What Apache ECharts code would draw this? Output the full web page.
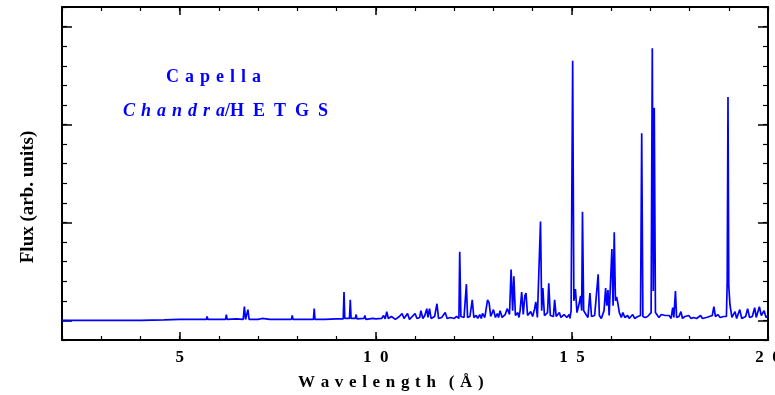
<!DOCTYPE html>
<html>
<head>
<meta charset="utf-8">
<script src="https://cdn.jsdelivr.net/npm/echarts@6/dist/echarts.min.js"></script>
<style>
  html, body { margin: 0; padding: 0; background: #fff; }
  #chart { width: 775px; height: 395px; }
</style>
</head>
<body>
<div id="chart"></div>
<script>
// spectrum: [wavelength (A), flux (arb.)]
const spec2to10 = [
  [2.0, 0], [4.0, 0], [4.6, 0.005], [5.0, 0.01], [5.3, 0.01], [5.68, 0.01], [5.70, 0.04], [5.72, 0.01],
  [6.0, 0.01], [6.17, 0.01], [6.19, 0.06], [6.21, 0.01], [6.45, 0.015], [6.62, 0.01], [6.65, 0.14],
  [6.68, 0.01], [6.71, 0.01], [6.74, 0.11], [6.77, 0.01], [7.0, 0.01], [7.1, 0.02], [7.3, 0.01],
  [7.6, 0.01], [7.85, 0.01], [7.87, 0.05], [7.89, 0.01], [8.2, 0.01], [8.41, 0.01], [8.43, 0.12],
  [8.45, 0.01], [8.7, 0.01], [9.0, 0.015], [9.17, 0.015], [9.19, 0.29], [9.21, 0.02], [9.33, 0.02],
  [9.35, 0.21], [9.37, 0.02], [9.48, 0.02], [9.5, 0.06], [9.52, 0.015], [9.7, 0.02], [9.72, 0.05],
  [9.75, 0.01], [9.93, 0.02], [9.95, 0.03]
];
const spec10to15 = [
  [10.0, 0.015], [10.15, 0.02], [10.2, 0.05], [10.24, 0.015], [10.28, 0.09], [10.32, 0.02], [10.4, 0.04],
  [10.5, 0.01], [10.6, 0.04], [10.64, 0.02], [10.67, 0.07], [10.72, 0.02], [10.81, 0.07], [10.86, 0.01],
  [10.93, 0.04], [10.97, 0.02], [11.0, 0.07], [11.05, 0.02], [11.12, 0.03], [11.15, 0.10], [11.2, 0.02],
  [11.25, 0.05], [11.30, 0.12], [11.33, 0.03], [11.37, 0.12], [11.41, 0.02], [11.5, 0.04], [11.53, 0.03],
  [11.56, 0.17], [11.6, 0.02], [11.68, 0.03], [11.72, 0.02], [11.77, 0.08], [11.82, 0.02], [11.9, 0.03],
  [12.0, 0.02], [12.06, 0.04], [12.1, 0.03], [12.12, 0.02], [12.14, 0.70], [12.17, 0.04], [12.25, 0.03],
  [12.28, 0.02], [12.31, 0.37], [12.34, 0.03], [12.4, 0.04], [12.43, 0.03], [12.46, 0.21], [12.5, 0.03],
  [12.56, 0.05], [12.6, 0.02], [12.65, 0.06], [12.69, 0.02], [12.72, 0.07], [12.78, 0.03], [12.82, 0.04],
  [12.85, 0.21], [12.89, 0.18], [12.93, 0.04], [12.97, 0.03], [13.0, 0.11], [13.05, 0.03], [13.1, 0.07],
  [13.13, 0.03], [13.17, 0.10], [13.22, 0.03], [13.3, 0.06], [13.35, 0.12], [13.41, 0.06], [13.45, 0.52],
  [13.49, 0.10], [13.52, 0.45], [13.56, 0.05], [13.62, 0.08], [13.65, 0.03], [13.68, 0.10], [13.72, 0.29],
  [13.76, 0.06], [13.8, 0.25], [13.83, 0.28], [13.87, 0.05], [13.92, 0.04], [13.95, 0.09], [14.0, 0.04],
  [14.05, 0.12], [14.08, 0.19], [14.12, 0.03], [14.17, 0.05], [14.20, 1.01], [14.23, 0.10], [14.26, 0.33],
  [14.3, 0.05], [14.35, 0.03], [14.38, 0.08], [14.41, 0.38], [14.45, 0.05], [14.5, 0.03], [14.53, 0.04],
  [14.56, 0.21], [14.6, 0.04], [14.64, 0.03], [14.68, 0.08], [14.72, 0.03], [14.76, 0.02], [14.8, 0.06],
  [14.87, 0.03], [14.93, 0.06], [14.95, 0.02], [14.98, 0.10]
];
const spec15to20 = [
  [15.02, 2.65], [15.05, 0.20], [15.09, 0.32], [15.13, 0.08], [15.19, 0.18], [15.22, 0.25], [15.25, 0.10],
  [15.27, 1.11], [15.30, 0.10], [15.36, 0.06], [15.41, 0.03], [15.46, 0.28], [15.5, 0.04], [15.54, 0.02],
  [15.58, 0.05], [15.62, 0.04], [15.67, 0.47], [15.70, 0.05], [15.75, 0.02], [15.78, 0.04], [15.82, 0.10],
  [15.86, 0.33], [15.89, 0.15], [15.92, 0.31], [15.95, 0.05], [15.99, 0.04], [16.02, 0.73], [16.05, 0.15],
  [16.08, 0.90], [16.11, 0.20], [16.14, 0.24], [16.17, 0.18], [16.21, 0.08], [16.26, 0.03], [16.3, 0.08],
  [16.35, 0.03], [16.42, 0.05], [16.46, 0.02], [16.5, 0.02], [16.55, 0.06], [16.6, 0.02], [16.64, 0.03],
  [16.68, 0.04], [16.72, 0.02], [16.75, 0.05], [16.78, 1.91], [16.81, 0.04], [16.87, 0.03], [16.93, 0.04],
  [16.97, 0.02], [17.02, 0.08], [17.05, 2.78], [17.075, 0.30], [17.10, 2.17], [17.13, 0.08], [17.18, 0.07],
  [17.22, 0.03], [17.28, 0.06], [17.33, 0.04], [17.38, 0.05], [17.43, 0.03], [17.48, 0.05], [17.53, 0.02],
  [17.57, 0.13], [17.6, 0.03], [17.64, 0.30], [17.67, 0.03], [17.73, 0.04], [17.78, 0.09], [17.82, 0.02],
  [17.88, 0.04], [17.93, 0.02], [17.98, 0.05], [18.04, 0.02], [18.1, 0.03], [18.18, 0.02], [18.28, 0.05],
  [18.33, 0.02], [18.43, 0.03], [18.48, 0.02], [18.58, 0.05], [18.62, 0.14], [18.66, 0.04], [18.72, 0.06],
  [18.78, 0.03], [18.87, 0.04], [18.94, 0.04], [18.96, 0.40], [18.98, 2.28], [19.00, 0.35], [19.03, 0.16],
  [19.08, 0.03], [19.16, 0.09], [19.2, 0.02], [19.28, 0.11], [19.33, 0.02], [19.43, 0.04], [19.48, 0.12],
  [19.53, 0.03], [19.6, 0.04], [19.66, 0.13], [19.7, 0.03], [19.78, 0.14], [19.83, 0.05], [19.9, 0.10],
  [19.95, 0.03], [20.0, 0.05]
];

const xMajorTicks = [5, 10, 15, 20];
const yMajorTicks = [0, 1, 2, 3];
const titleLine1 = 'Capella';
const titleItalic = 'Chandra';
const titleRest = '/HETGS';
const xName = 'Wavelength';
const xUnit = '(Å)';
const yName = 'Flux (arb. units)';

const serif = '"Liberation Serif", "DejaVu Serif", serif';
const blue = '#0000ff';
const gap = ' \u200a';

// spread letters out like the original figure
function spaced(s, sep) {
  return s.split('').join(sep);
}

const chart = echarts.init(document.getElementById('chart'), null, { renderer: 'canvas' });

// frame axis helper: main axis carries line + long ticks, the twin only short ticks
function xAx(pos, major) {
  return {
    type: 'value', position: pos, min: 2, max: 20,
    interval: major ? undefined : 1,
    axisLine: { show: major, onZero: false, lineStyle: { color: '#000', width: 2 } },
    axisTick: major
      ? { show: true, inside: true, length: 8, customValues: xMajorTicks, lineStyle: { color: '#000', width: 1.5 } }
      : { show: true, inside: true, length: 4, lineStyle: { color: '#000', width: 1.2 } },
    axisLabel: (major && pos === 'bottom') ? {
      show: true, margin: 9, customValues: xMajorTicks, color: '#000',
      fontFamily: serif, fontWeight: 'bold', fontSize: 17,
      formatter: function (v) { return spaced(String(v), '  '); }
    } : { show: false },
    splitLine: { show: false }
  };
}
function yAx(pos, major) {
  return {
    type: 'value', position: pos, min: -0.2, max: 3.2,
    interval: major ? undefined : 0.2,
    axisLine: { show: major, onZero: false, lineStyle: { color: '#000', width: 2 } },
    axisTick: major
      ? { show: true, inside: true, length: 10, customValues: yMajorTicks, lineStyle: { color: '#000', width: 1.5 } }
      : { show: true, inside: true, length: 5, lineStyle: { color: '#000', width: 1.2 } },
    axisLabel: { show: false },
    splitLine: { show: false }
  };
}

const option = {
  animation: false,
  backgroundColor: '#fff',
  grid: { left: 62, right: 7, top: 7, bottom: 55, containLabel: false, outerBoundsMode: 'none' },
  xAxis: [xAx('bottom', true), xAx('bottom', false), xAx('top', true), xAx('top', false)],
  yAxis: [yAx('left', true), yAx('left', false), yAx('right', true), yAx('right', false)],
  series: [{
    type: 'line',
    xAxisIndex: 0,
    yAxisIndex: 0,
    showSymbol: false,
    symbol: 'none',
    lineStyle: { color: blue, width: 1.7 },
    data: spec2to10.concat(spec10to15, spec15to20)
  }],
  graphic: [
    {
      type: 'text', left: 166, top: 68,
      style: { text: spaced(titleLine1, gap), fill: blue, font: 'bold 18px ' + serif }
    },
    {
      type: 'text', left: 123, top: 102,
      style: {
        text: '{i|' + spaced(titleItalic, gap) + '}{b|' + titleRest.charAt(0) + spaced(titleRest.slice(1), '  ') + '}',
        rich: {
          i: { fill: blue, fontFamily: serif, fontStyle: 'italic', fontWeight: 'bold', fontSize: 18 },
          b: { fill: blue, fontFamily: serif, fontWeight: 'bold', fontSize: 18 }
        }
      }
    },
    {
      type: 'text', left: 298, top: 374,
      style: { text: spaced(xName, gap) + '   ' + spaced(xUnit, gap), fill: '#000', font: 'bold 17px ' + serif }
    },
    {
      type: 'text', x: 28, y: 197, rotation: Math.PI / 2,
      style: { text: yName, fill: '#000', font: 'bold 19px ' + serif, align: 'center', verticalAlign: 'middle' }
    }
  ]
};

chart.setOption(option);
</script>
</body>
</html>
